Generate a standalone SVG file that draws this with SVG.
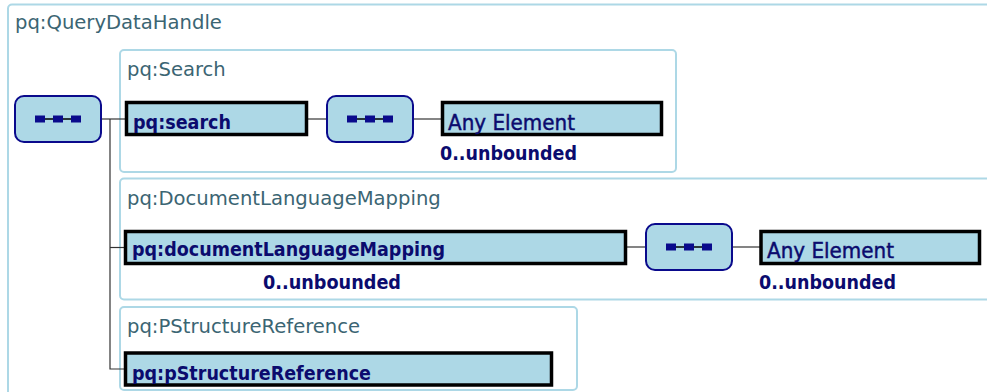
<svg xmlns="http://www.w3.org/2000/svg" width="987" height="392" viewBox="0 0 987 392">
  <defs>
    <style>
      .frame { fill: #ffffff; stroke: #add8e6; stroke-width: 2; }
      .ftitle { font-family: "DejaVu Sans", Verdana, sans-serif; font-size: 19.6px; fill: #3b6573; }
      .elem { fill: #add8e6; stroke: #000000; stroke-width: 3.5; }
      .ename { font-family: "DejaVu Sans", Verdana, sans-serif; font-size: 19.5px; font-weight: bold; fill: #0b0b6e; }
      .anyname { font-family: "DejaVu Sans", Verdana, sans-serif; font-size: 20.6px; fill: #0b0b6e; stroke: #0b0b6e; stroke-width: 0.45; }
      .card { font-family: "DejaVu Sans", Verdana, sans-serif; font-size: 19.5px; font-weight: bold; fill: #0b0b6e; }
      .seq { fill: #add8e6; stroke: #0a0a8c; stroke-width: 2; }
      .seqbar { fill: #0a0a8c; }
      .seqline { stroke: #000000; stroke-width: 1.5; }
      .wire { fill: none; stroke: #333333; stroke-width: 1.2; }
    </style>
    <!-- sequence compositor icon, centred on the origin -->
    <g id="seqIcon">
      <line class="seqline" x1="-22" y1="0" x2="22" y2="0"/>
      <rect class="seqbar" x="-23" y="-3.5" width="10" height="7"/>
      <rect class="seqbar" x="-5" y="-3.5" width="10" height="7"/>
      <rect class="seqbar" x="13" y="-3.5" width="10" height="7"/>
    </g>
  </defs>

  <rect width="987" height="392" fill="#ffffff"/>

  <!-- complex type frames -->
  <g id="QueryDataHandle">
    <rect class="frame" x="8" y="4.5" width="1000" height="400" rx="4"/>
    <text class="ftitle" x="15" y="29">pq:QueryDataHandle</text>
  </g>
  <g id="Search">
    <rect class="frame" x="120" y="50" width="556" height="122" rx="4"/>
    <text class="ftitle" x="127" y="76">pq:Search</text>
  </g>
  <g id="DocumentLanguageMapping">
    <rect class="frame" x="120" y="178.5" width="900" height="121" rx="4"/>
    <text class="ftitle" x="127" y="205">pq:DocumentLanguageMapping</text>
  </g>
  <g id="PStructureReference">
    <rect class="frame" x="120" y="307" width="457" height="83" rx="4"/>
    <text class="ftitle" x="127" y="333">pq:PStructureReference</text>
  </g>

  <!-- connectors -->
  <g id="connectors">
    <path class="wire" d="M101 119 H126"/>
    <path class="wire" d="M110 119 V369 H126"/>
    <path class="wire" d="M110 247.5 H126"/>
    <path class="wire" d="M308 119 H327"/>
    <path class="wire" d="M413 119 H442"/>
    <path class="wire" d="M627 247 H646"/>
    <path class="wire" d="M732 247 H761"/>
  </g>

  <!-- compositors -->
  <g id="rootSequence">
    <rect class="seq" x="15" y="96" width="86" height="46" rx="9"/>
    <use href="#seqIcon" x="58" y="119"/>
  </g>
  <g id="searchSequence">
    <rect class="seq" x="327" y="96" width="86" height="46" rx="9"/>
    <use href="#seqIcon" x="370" y="119"/>
  </g>
  <g id="mappingSequence">
    <rect class="seq" x="646" y="224" width="86" height="46" rx="9"/>
    <use href="#seqIcon" x="689" y="247"/>
  </g>

  <!-- elements -->
  <g id="search">
    <rect class="elem" x="126.5" y="102.5" width="180" height="32"/>
    <text class="ename" x="133" y="128.5" textLength="98" lengthAdjust="spacingAndGlyphs">pq:search</text>
  </g>
  <g id="searchAny">
    <rect class="elem" x="442.5" y="102.5" width="219" height="32"/>
    <text class="anyname" x="448" y="129.5" textLength="127" lengthAdjust="spacingAndGlyphs">Any Element</text>
    <text class="card" x="440" y="160" textLength="137" lengthAdjust="spacingAndGlyphs">0..unbounded</text>
  </g>
  <g id="documentLanguageMapping">
    <rect class="elem" x="125.5" y="231.5" width="500" height="32"/>
    <text class="ename" x="132" y="256" textLength="313" lengthAdjust="spacingAndGlyphs">pq:documentLanguageMapping</text>
    <text class="card" x="263" y="288.5" textLength="138" lengthAdjust="spacingAndGlyphs">0..unbounded</text>
  </g>
  <g id="mappingAny">
    <rect class="elem" x="761" y="231.5" width="218.5" height="32"/>
    <text class="anyname" x="767" y="257.5" textLength="127" lengthAdjust="spacingAndGlyphs">Any Element</text>
    <text class="card" x="759" y="289" textLength="137" lengthAdjust="spacingAndGlyphs">0..unbounded</text>
  </g>
  <g id="pStructureReference">
    <rect class="elem" x="125.5" y="353" width="426" height="32"/>
    <text class="ename" x="132" y="379.5" textLength="239" lengthAdjust="spacingAndGlyphs">pq:pStructureReference</text>
  </g>
</svg>
